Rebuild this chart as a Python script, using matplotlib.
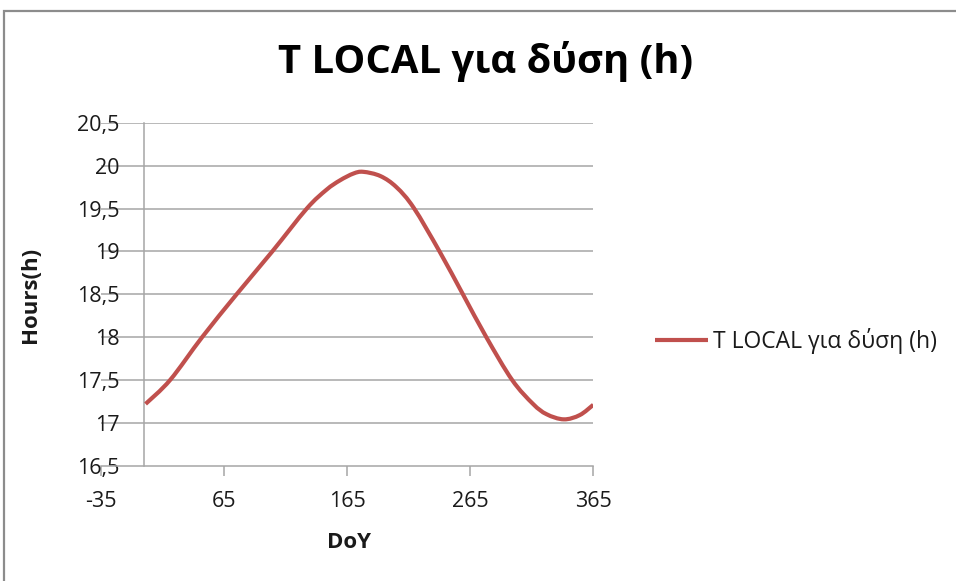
import matplotlib
matplotlib.use("Agg")
import matplotlib.pyplot as plt
import numpy as np
from matplotlib.lines import Line2D
from matplotlib.patches import PathPatch, Rectangle
from matplotlib.path import Path

plt.rcParams["font.family"] = ["Open Sans", "DejaVu Sans"]

# Local sunset time over the year
doy = [1, 21, 47, 75, 104, 132, 148, 159, 170, 178, 192, 205, 219, 240,
       259, 278, 299, 316, 327, 341, 354, 365]
t_local = [17.22, 17.50, 18.00, 18.50, 19.00, 19.50, 19.72, 19.83, 19.91,
           19.93, 19.88, 19.75, 19.51, 19.00, 18.50, 18.00, 17.50, 17.22,
           17.10, 17.04, 17.09, 17.21]

series_name = "T LOCAL για δύση (h)"
x_ticks = [-35, 65, 165, 265, 365]
y_ticks = [16.5, 17, 17.5, 18, 18.5, 19, 19.5, 20, 20.5]
y_labels = ["16,5", "17", "17,5", "18", "18,5", "19", "19,5", "20", "20,5"]

LINE_COL = "#c0504d"
GRID_COL = "#a6a6a6"
TEXT_COL = "#1a1a1a"


def smooth_path(xs, ys):
    """Catmull-Rom style smoothed line as cubic Bezier segments."""
    pts = np.column_stack([xs, ys]).astype(float)
    ext = np.vstack([pts[0], pts, pts[-1]])
    verts = [pts[0]]
    codes = [Path.MOVETO]
    for i in range(1, len(ext) - 2):
        p0, p1, p2, p3 = ext[i - 1], ext[i], ext[i + 1], ext[i + 2]
        verts += [p1 + (p2 - p0) / 6, p2 - (p3 - p1) / 6, p2]
        codes += [Path.CURVE4] * 3
    return Path(verts, codes)


W, H = 956, 581
fig = plt.figure(figsize=(W / 100, H / 100), dpi=100)

# outer chart frame (right and bottom edges run off the canvas)
fig.patches.append(Rectangle((4 / W, -0.1), 1.2, 1.1 - 11 / H, transform=fig.transFigure,
                             fill=False, edgecolor="#8c8c8c", linewidth=1.6))

ax = fig.add_axes([101.3 / W, 1 - 465.6 / H, 492.0 / W, 342.6 / H])

for v in y_ticks[1:]:
    ax.axhline(v, color=GRID_COL, linewidth=1.1, zorder=1)

ax.add_patch(PathPatch(smooth_path(doy, t_local), facecolor="none", edgecolor=LINE_COL,
                       linewidth=3.0, capstyle="butt", zorder=3))

ax.set_xlim(-35, 365)
ax.set_ylim(16.5, 20.5)

for s in ("top", "right"):
    ax.spines[s].set_visible(False)
ax.spines["left"].set_position(("data", 0))
for s in ("left", "bottom"):
    ax.spines[s].set_color(GRID_COL)
    ax.spines[s].set_linewidth(1.1)

ax.set_xticks(x_ticks)
ax.set_xticklabels([str(t) for t in x_ticks])
ax.set_yticks(y_ticks)
ax.set_yticklabels(y_labels)
ax.tick_params(axis="y", length=0, pad=18, labelsize=15.5, labelcolor=TEXT_COL)
ax.tick_params(axis="x", length=7, width=1.1, color=GRID_COL, direction="out",
               pad=11, labelsize=15.5, labelcolor=TEXT_COL)

fig.text(349 / W, 1 - 543 / H, "DoY", ha="center", va="center",
         fontsize=16, fontweight="bold", color=TEXT_COL)
fig.text(31 / W, 1 - 295 / H, "Hours(h)", ha="center", va="center",
         fontsize=16, fontweight="bold", rotation=90, color=TEXT_COL)
fig.text(485.5 / W, 1 - 61 / H, series_name, ha="center", va="center",
         fontsize=28.8, fontweight="bold", color="black")

handle = Line2D([], [], color=LINE_COL, linewidth=3.0, solid_capstyle="butt")
leg = ax.legend([handle], [series_name], loc="center left",
                bbox_to_anchor=(655 / W, 1 - 341 / H), bbox_transform=fig.transFigure,
                frameon=False, fontsize=16.5, handlelength=2.3, handletextpad=0.25,
                borderpad=0, borderaxespad=0)
for t in leg.get_texts():
    t.set_color(TEXT_COL)

fig.savefig("out.png", dpi=100)
